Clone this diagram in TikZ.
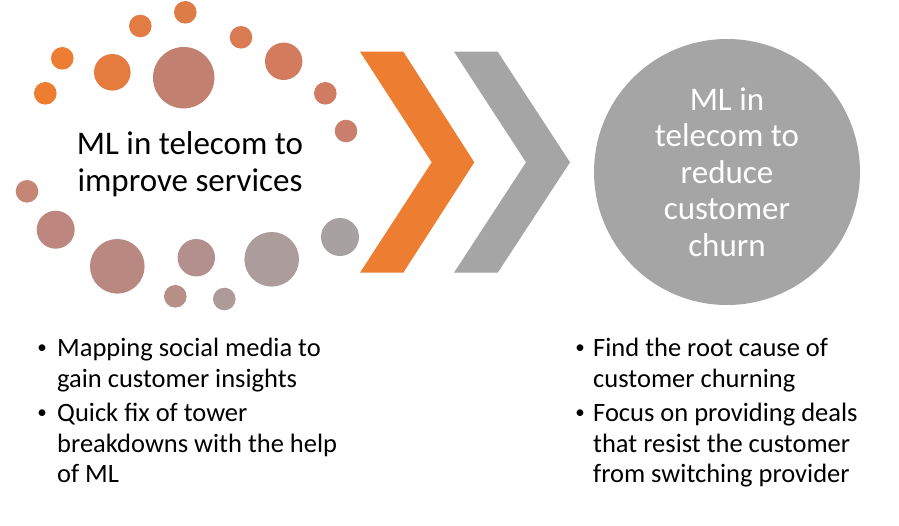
\documentclass[tikz,border=0pt]{standalone}
\usepackage{fontspec}
\setmainfont{Carlito}
\definecolor{accorange}{HTML}{ED7D31}
\definecolor{accgrey}{HTML}{A5A5A5}
\begin{document}
\begin{tikzpicture}[x=1pt,y=-1pt,
  title/.style={font=\fontsize{33}{36.5}\selectfont, align=center, inner sep=0pt},
  point/.style={font=\fontsize{26.5}{30.5}\selectfont, align=left, inner sep=0pt, anchor=north west},
  bullet/.style={font=\fontsize{19}{30.5}\selectfont, inner sep=0pt, anchor=center}]
\useasboundingbox (0,0) rectangle (899,525);
% ring of dots
\foreach \x/\y/\r/\c in {45.3/93.3/11.3/ED7D31, 62.3/58.3/11.3/EC7D33, 112.3/72.3/18.3/E57C3F,
    140.3/26/11.3/E27B44, 185.3/12.3/11.3/DE7C48, 183.7/77.7/30.7/C28070, 241/37.3/11.3/D97C53,
    283.7/61.3/18.7/D27B5D, 325.3/93.3/11.3/CF7C63, 346/131/11.3/C97F6B, 27/191.3/11.3/C58676,
    55.7/229.7/19/BD877F, 117.3/266.3/27.3/B98880, 196.3/257.7/18.7/B38F8E, 175.3/296.3/11.3/B68F86,
    224.3/299/11.3/AE9A99, 271.7/259.3/27.3/AC9C9C, 340/237/19/A8A1A2}
  {\definecolor{dotcol}{HTML}{\c}
   \fill[dotcol] (\x,\y) circle (\r);}
\node[title] (improve) at (190,164) {ML in telecom to\\improve services};
% chevrons
\fill[accorange] (360,51.7) -- (403.3,51.7) -- (474.3,162.3) -- (403.3,272.7)
  -- (360,272.7) -- (431.7,162.3) -- cycle;
\fill[accgrey] (454,51.7) -- (497.7,51.7) -- (570,162.3) -- (497.7,272.7)
  -- (454,272.7) -- (526,162.3) -- cycle;
% goal circle
\node[circle, fill=accgrey, minimum size=266pt, inner sep=0pt] (goal) at (727,172) {};
\node[title, text=white] (churn) at (goal.center)
  {ML in\\telecom to\\reduce\\customer\\churn};
% bullet points
\node[bullet] (b1) at (42,349) {\textbullet};
\node[point] (p1) at (57,338) {Mapping social media to\\gain customer insights};
\node[bullet] (b2) at (42,414) {\textbullet};
\node[point] (p2) at (57,403) {Quick fix of tower\\breakdowns with the help\\of ML};
\node[bullet] (b3) at (580,349) {\textbullet};
\node[point] (p3) at (593,338) {Find the root cause of\\customer churning};
\node[bullet] (b4) at (580,414) {\textbullet};
\node[point] (p4) at (593,403) {Focus on providing deals\\that resist the customer\\from switching provider};
\end{tikzpicture}
\end{document}
